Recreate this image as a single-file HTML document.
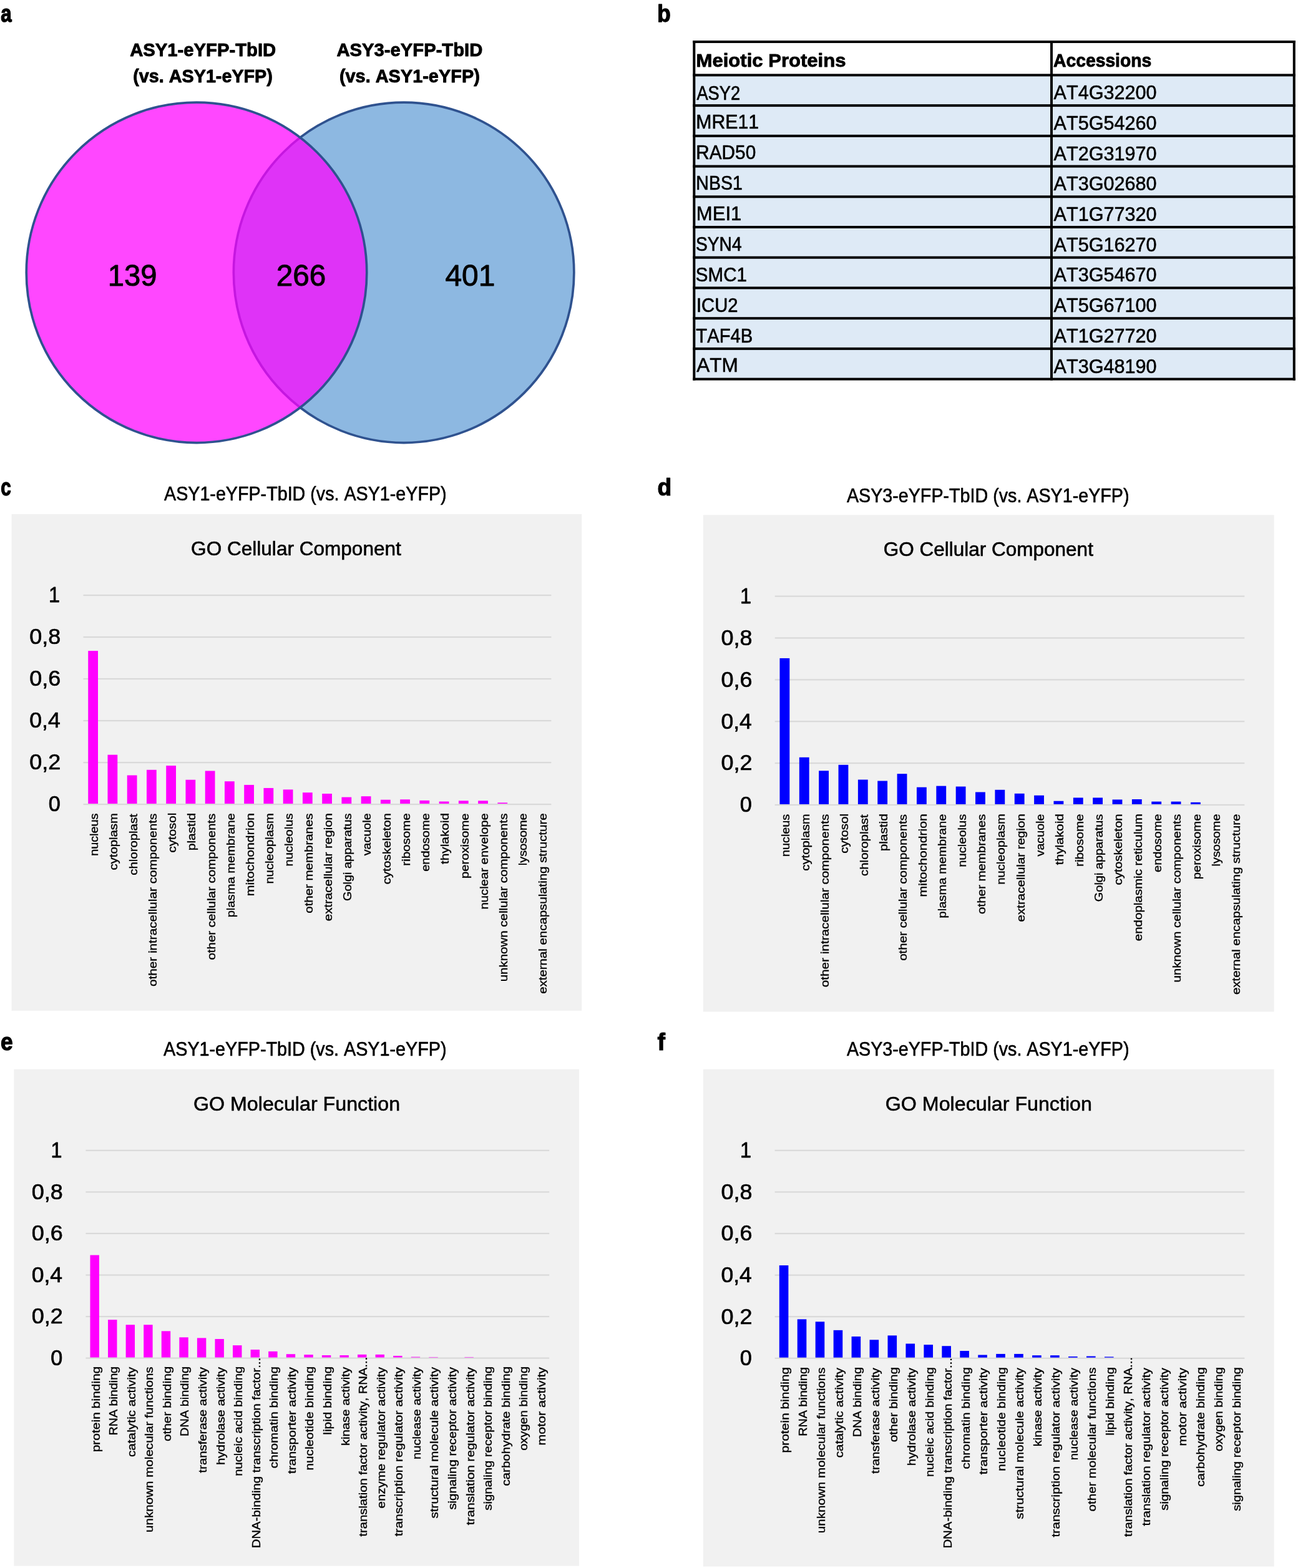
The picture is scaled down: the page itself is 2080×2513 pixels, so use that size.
<!DOCTYPE html>
<html lang="en"><head><meta charset="utf-8"><title>Figure</title>
<style>
html,body{margin:0;padding:0;background:#fff;}
body{width:2080px;height:2513px;overflow:hidden;}
svg{display:block;}
text{font-family:"Liberation Sans",sans-serif;font-kerning:none;white-space:pre;}
</style></head><body>
<svg width="2080" height="2513" viewBox="0 0 2080 2513">
<g id="panel-labels">
<text transform="translate(1.20,35.00) scale(0.8029,1)" font-size="38.80" font-weight="bold" fill="#000" stroke="#000" stroke-width="1.45" stroke-linejoin="round">a</text>
<text transform="translate(1053.28,34.70) scale(0.9065,1)" font-size="38.80" font-weight="bold" fill="#000" stroke="#000" stroke-width="1.28" stroke-linejoin="round">b</text>
<text transform="translate(1.16,794.30) scale(0.7596,1)" font-size="38.80" font-weight="bold" fill="#000" stroke="#000" stroke-width="1.53" stroke-linejoin="round">c</text>
<text transform="translate(1053.52,794.30) scale(0.9565,1)" font-size="38.80" font-weight="bold" fill="#000" stroke="#000" stroke-width="1.22" stroke-linejoin="round">d</text>
<text transform="translate(0.98,1682.80) scale(0.9091,1)" font-size="38.80" font-weight="bold" fill="#000" stroke="#000" stroke-width="1.28" stroke-linejoin="round">e</text>
<text transform="translate(1053.50,1683.00) scale(0.9611,1)" font-size="38.80" font-weight="bold" fill="#000" stroke="#000" stroke-width="1.21" stroke-linejoin="round">f</text>
</g>
<g id="venn">
<circle cx="647.1" cy="436.8" r="272.75" fill="#8DB8E1" stroke="#2F528F" stroke-width="3.7"/>
<circle cx="315.0" cy="436.8" r="272.75" fill="#FF00FF" fill-opacity="0.72" stroke="#2F528F" stroke-width="3.7"/>
<text transform="translate(208.19,90.30) scale(0.9846,1)" font-size="29.70" font-weight="bold" fill="#000" stroke="#000" stroke-width="0.90" stroke-linejoin="round">ASY1-eYFP-TbID</text>
<text transform="translate(213.30,132.10) scale(0.9676,1)" font-size="29.70" font-weight="bold" fill="#000" stroke="#000" stroke-width="0.92" stroke-linejoin="round">(vs. ASY1-eYFP)</text>
<text transform="translate(539.39,90.30) scale(0.9846,1)" font-size="29.70" font-weight="bold" fill="#000" stroke="#000" stroke-width="0.90" stroke-linejoin="round">ASY3-eYFP-TbID</text>
<text transform="translate(543.89,132.10) scale(0.9738,1)" font-size="29.70" font-weight="bold" fill="#000" stroke="#000" stroke-width="0.92" stroke-linejoin="round">(vs. ASY1-eYFP)</text>
<text transform="translate(172.71,457.60) scale(0.9716,1)" font-size="48.57" fill="#000" stroke="#000" stroke-width="0.95" stroke-linejoin="round">139</text>
<text transform="translate(442.63,457.60) scale(0.9815,1)" font-size="48.57" fill="#000" stroke="#000" stroke-width="0.94" stroke-linejoin="round">266</text>
<text transform="translate(713.41,457.60) scale(0.9868,1)" font-size="48.57" fill="#000" stroke="#000" stroke-width="0.94" stroke-linejoin="round">401</text>
</g>
<g id="table">
<rect x="1112.3" y="67.0" width="961.5000000000002" height="53.400000000000006" fill="#fff"/>
<rect x="1112.3" y="120.4" width="961.5000000000002" height="487.20000000000005" fill="#DEEAF6"/>
<rect x="1110.30" y="65.00" width="965.50" height="4.0" fill="#000"/>
<rect x="1110.30" y="118.40" width="965.50" height="4.0" fill="#000"/>
<rect x="1110.30" y="167.12" width="965.50" height="4.0" fill="#000"/>
<rect x="1110.30" y="215.84" width="965.50" height="4.0" fill="#000"/>
<rect x="1110.30" y="264.56" width="965.50" height="4.0" fill="#000"/>
<rect x="1110.30" y="313.28" width="965.50" height="4.0" fill="#000"/>
<rect x="1110.30" y="362.00" width="965.50" height="4.0" fill="#000"/>
<rect x="1110.30" y="410.72" width="965.50" height="4.0" fill="#000"/>
<rect x="1110.30" y="459.44" width="965.50" height="4.0" fill="#000"/>
<rect x="1110.30" y="508.16" width="965.50" height="4.0" fill="#000"/>
<rect x="1110.30" y="556.88" width="965.50" height="4.0" fill="#000"/>
<rect x="1110.30" y="605.60" width="965.50" height="4.0" fill="#000"/>
<rect x="1110.30" y="65.00" width="4.0" height="544.60" fill="#000"/>
<rect x="1683.00" y="65.00" width="4.0" height="544.60" fill="#000"/>
<rect x="2071.80" y="65.00" width="4.0" height="544.60" fill="#000"/>
<text transform="translate(1115.50,107.10) scale(1.0467,1)" font-size="29.70" font-weight="bold" fill="#000" stroke="#000" stroke-width="0.85" stroke-linejoin="round">Meiotic Proteins</text>
<text transform="translate(1688.10,107.00) scale(0.9522,1)" font-size="29.70" font-weight="bold" fill="#000" stroke="#000" stroke-width="0.94" stroke-linejoin="round">Accessions</text>
<text transform="translate(1116.40,159.50) scale(0.8779,1)" font-size="31.10" fill="#000" stroke="#000" stroke-width="0.67" stroke-linejoin="round">ASY2</text>
<text transform="translate(1688.60,159.20) scale(0.9831,1)" font-size="31.10" fill="#000" stroke="#000" stroke-width="0.60" stroke-linejoin="round">AT4G32200</text>
<text transform="translate(1115.23,206.30) scale(0.9730,1)" font-size="31.10" fill="#000" stroke="#000" stroke-width="0.61" stroke-linejoin="round">MRE11</text>
<text transform="translate(1688.60,207.90) scale(0.9831,1)" font-size="31.10" fill="#000" stroke="#000" stroke-width="0.60" stroke-linejoin="round">AT5G54260</text>
<text transform="translate(1115.27,255.10) scale(0.9573,1)" font-size="31.10" fill="#000" stroke="#000" stroke-width="0.62" stroke-linejoin="round">RAD50</text>
<text transform="translate(1688.60,256.60) scale(0.9831,1)" font-size="31.10" fill="#000" stroke="#000" stroke-width="0.60" stroke-linejoin="round">AT2G31970</text>
<text transform="translate(1115.37,304.10) scale(0.9156,1)" font-size="31.10" fill="#000" stroke="#000" stroke-width="0.65" stroke-linejoin="round">NBS1</text>
<text transform="translate(1688.60,305.30) scale(0.9831,1)" font-size="31.10" fill="#000" stroke="#000" stroke-width="0.60" stroke-linejoin="round">AT3G02680</text>
<text transform="translate(1115.87,353.00) scale(0.9973,1)" font-size="31.10" fill="#000" stroke="#000" stroke-width="0.59" stroke-linejoin="round">MEI1</text>
<text transform="translate(1688.60,354.00) scale(0.9831,1)" font-size="31.10" fill="#000" stroke="#000" stroke-width="0.60" stroke-linejoin="round">AT1G77320</text>
<text transform="translate(1114.91,401.50) scale(0.9071,1)" font-size="31.10" fill="#000" stroke="#000" stroke-width="0.65" stroke-linejoin="round">SYN4</text>
<text transform="translate(1688.60,402.70) scale(0.9831,1)" font-size="31.10" fill="#000" stroke="#000" stroke-width="0.60" stroke-linejoin="round">AT5G16270</text>
<text transform="translate(1114.87,451.00) scale(0.9493,1)" font-size="31.10" fill="#000" stroke="#000" stroke-width="0.62" stroke-linejoin="round">SMC1</text>
<text transform="translate(1688.60,451.40) scale(0.9831,1)" font-size="31.10" fill="#000" stroke="#000" stroke-width="0.60" stroke-linejoin="round">AT3G54670</text>
<text transform="translate(1116.01,500.30) scale(0.9396,1)" font-size="31.10" fill="#000" stroke="#000" stroke-width="0.63" stroke-linejoin="round">ICU2</text>
<text transform="translate(1688.60,500.10) scale(0.9831,1)" font-size="31.10" fill="#000" stroke="#000" stroke-width="0.60" stroke-linejoin="round">AT5G67100</text>
<text transform="translate(1115.34,549.20) scale(0.9392,1)" font-size="31.10" fill="#000" stroke="#000" stroke-width="0.63" stroke-linejoin="round">TAF4B</text>
<text transform="translate(1688.60,548.80) scale(0.9831,1)" font-size="31.10" fill="#000" stroke="#000" stroke-width="0.60" stroke-linejoin="round">AT1G27720</text>
<text transform="translate(1116.20,595.90) scale(1.0166,1)" font-size="31.10" fill="#000" stroke="#000" stroke-width="0.58" stroke-linejoin="round">ATM</text>
<text transform="translate(1688.60,597.50) scale(0.9831,1)" font-size="31.10" fill="#000" stroke="#000" stroke-width="0.60" stroke-linejoin="round">AT3G48190</text>
</g>
<g id="chart-c">
<text transform="translate(263.00,801.80) scale(0.9164,1)" font-size="31.30" fill="#000" stroke="#000" stroke-width="0.65" stroke-linejoin="round">ASY1-eYFP-TbID (vs. ASY1-eYFP)</text>
<rect x="18.5" y="823.9" width="913.80" height="795.90" fill="#F1F1F1"/>
<text transform="translate(306.12,890.00) scale(1.0083,1)" font-size="31.30" fill="#000" stroke="#000" stroke-width="0.59" stroke-linejoin="round">GO Cellular Component</text>
<rect x="133.5" y="952.90" width="749.90" height="2.2" fill="#D9D9D9"/>
<text transform="translate(78.02,965.30) scale(0.9052,1)" font-size="35.65" fill="#000" stroke="#000" stroke-width="0.75" stroke-linejoin="round">1</text>
<rect x="133.5" y="1019.92" width="749.90" height="2.2" fill="#D9D9D9"/>
<text transform="translate(47.31,1032.32) scale(1.0089,1)" font-size="35.65" fill="#000" stroke="#000" stroke-width="0.67" stroke-linejoin="round">0,8</text>
<rect x="133.5" y="1086.94" width="749.90" height="2.2" fill="#D9D9D9"/>
<text transform="translate(47.31,1099.34) scale(1.0089,1)" font-size="35.65" fill="#000" stroke="#000" stroke-width="0.67" stroke-linejoin="round">0,6</text>
<rect x="133.5" y="1153.96" width="749.90" height="2.2" fill="#D9D9D9"/>
<text transform="translate(47.33,1166.36) scale(0.9971,1)" font-size="35.65" fill="#000" stroke="#000" stroke-width="0.68" stroke-linejoin="round">0,4</text>
<rect x="133.5" y="1220.98" width="749.90" height="2.2" fill="#D9D9D9"/>
<text transform="translate(47.31,1233.38) scale(1.0089,1)" font-size="35.65" fill="#000" stroke="#000" stroke-width="0.67" stroke-linejoin="round">0,2</text>
<text transform="translate(77.77,1300.40) scale(0.9605,1)" font-size="35.65" fill="#000" stroke="#000" stroke-width="0.71" stroke-linejoin="round">0</text>
<rect x="141.23" y="1043.14" width="15.78" height="245.96" fill="#FF00FF"/>
<rect x="172.48" y="1209.68" width="15.78" height="79.42" fill="#FF00FF"/>
<rect x="203.73" y="1242.52" width="15.78" height="46.58" fill="#FF00FF"/>
<rect x="234.97" y="1233.81" width="15.78" height="55.29" fill="#FF00FF"/>
<rect x="266.22" y="1227.11" width="15.78" height="61.99" fill="#FF00FF"/>
<rect x="297.46" y="1249.73" width="15.78" height="39.37" fill="#FF00FF"/>
<rect x="328.71" y="1235.48" width="15.78" height="53.62" fill="#FF00FF"/>
<rect x="359.95" y="1252.24" width="15.78" height="36.86" fill="#FF00FF"/>
<rect x="391.20" y="1257.94" width="15.78" height="31.16" fill="#FF00FF"/>
<rect x="422.45" y="1262.96" width="15.78" height="26.14" fill="#FF00FF"/>
<rect x="453.69" y="1265.41" width="15.78" height="23.69" fill="#FF00FF"/>
<rect x="484.94" y="1270.20" width="15.78" height="18.90" fill="#FF00FF"/>
<rect x="516.18" y="1272.01" width="15.78" height="17.09" fill="#FF00FF"/>
<rect x="547.43" y="1277.61" width="15.78" height="11.49" fill="#FF00FF"/>
<rect x="578.68" y="1276.20" width="15.78" height="12.90" fill="#FF00FF"/>
<rect x="609.92" y="1281.73" width="15.78" height="7.37" fill="#FF00FF"/>
<rect x="641.17" y="1281.29" width="15.78" height="7.81" fill="#FF00FF"/>
<rect x="672.41" y="1282.90" width="15.78" height="6.20" fill="#FF00FF"/>
<rect x="703.66" y="1284.51" width="15.78" height="4.59" fill="#FF00FF"/>
<rect x="734.90" y="1283.34" width="15.78" height="5.76" fill="#FF00FF"/>
<rect x="766.15" y="1283.34" width="15.78" height="5.76" fill="#FF00FF"/>
<rect x="797.40" y="1286.42" width="15.78" height="2.68" fill="#FF00FF"/>
<rect x="133.5" y="1288.00" width="749.90" height="2.2" fill="#D9D9D9"/>
<text transform="translate(157.02,1371.84) rotate(-90) scale(1.0330,1)" font-size="19.20" stroke="#000" stroke-width="0.38">nucleus</text>
<text transform="translate(188.27,1394.56) rotate(-90) scale(1.0588,1)" font-size="19.20" stroke="#000" stroke-width="0.38">cytoplasm</text>
<text transform="translate(219.51,1402.69) rotate(-90) scale(1.0611,1)" font-size="19.20" stroke="#000" stroke-width="0.38">chloroplast</text>
<text transform="translate(250.76,1581.00) rotate(-90) scale(1.0791,1)" font-size="19.20" stroke="#000" stroke-width="0.38">other intracellular components</text>
<text transform="translate(282.01,1366.48) rotate(-90) scale(1.0666,1)" font-size="19.20" stroke="#000" stroke-width="0.38">cytosol</text>
<text transform="translate(313.25,1363.16) rotate(-90) scale(1.0852,1)" font-size="19.20" stroke="#000" stroke-width="0.38">plastid</text>
<text transform="translate(344.50,1538.62) rotate(-90) scale(1.0696,1)" font-size="19.20" stroke="#000" stroke-width="0.38">other cellular components</text>
<text transform="translate(375.74,1470.35) rotate(-90) scale(1.0507,1)" font-size="19.20" stroke="#000" stroke-width="0.38">plasma membrane</text>
<text transform="translate(406.99,1436.28) rotate(-90) scale(1.1059,1)" font-size="19.20" stroke="#000" stroke-width="0.38">mitochondrion</text>
<text transform="translate(438.24,1416.51) rotate(-90) scale(1.0526,1)" font-size="19.20" stroke="#000" stroke-width="0.38">nucleoplasm</text>
<text transform="translate(469.48,1388.43) rotate(-90) scale(1.0473,1)" font-size="19.20" stroke="#000" stroke-width="0.38">nucleolus</text>
<text transform="translate(500.73,1463.68) rotate(-90) scale(1.0648,1)" font-size="19.20" stroke="#000" stroke-width="0.38">other membranes</text>
<text transform="translate(531.97,1476.22) rotate(-90) scale(1.0681,1)" font-size="19.20" stroke="#000" stroke-width="0.38">extracellular region</text>
<text transform="translate(563.22,1443.93) rotate(-90) scale(1.0362,1)" font-size="19.20" stroke="#000" stroke-width="0.38">Golgi apparatus</text>
<text transform="translate(594.46,1371.26) rotate(-90) scale(1.0269,1)" font-size="19.20" stroke="#000" stroke-width="0.38">vacuole</text>
<text transform="translate(625.71,1417.32) rotate(-90) scale(1.0717,1)" font-size="19.20" stroke="#000" stroke-width="0.38">cytoskeleton</text>
<text transform="translate(656.96,1387.73) rotate(-90) scale(1.0696,1)" font-size="19.20" stroke="#000" stroke-width="0.38">ribosome</text>
<text transform="translate(688.20,1396.76) rotate(-90) scale(1.0425,1)" font-size="19.20" stroke="#000" stroke-width="0.38">endosome</text>
<text transform="translate(719.45,1384.96) rotate(-90) scale(1.0824,1)" font-size="19.20" stroke="#000" stroke-width="0.38">thylakoid</text>
<text transform="translate(750.69,1408.12) rotate(-90) scale(1.0564,1)" font-size="19.20" stroke="#000" stroke-width="0.38">peroxisome</text>
<text transform="translate(781.94,1457.48) rotate(-90) scale(1.0545,1)" font-size="19.20" stroke="#000" stroke-width="0.38">nuclear envelope</text>
<text transform="translate(813.19,1573.33) rotate(-90) scale(1.0669,1)" font-size="19.20" stroke="#000" stroke-width="0.38">unknown cellular components</text>
<text transform="translate(844.43,1387.19) rotate(-90) scale(1.0345,1)" font-size="19.20" stroke="#000" stroke-width="0.38">lysosome</text>
<text transform="translate(875.68,1592.83) rotate(-90) scale(1.0639,1)" font-size="19.20" stroke="#000" stroke-width="0.38">external encapsulating structure</text>
</g>
<g id="chart-d">
<text transform="translate(1356.90,804.80) scale(0.9164,1)" font-size="31.30" fill="#000" stroke="#000" stroke-width="0.65" stroke-linejoin="round">ASY3-eYFP-TbID (vs. ASY1-eYFP)</text>
<rect x="1126.8" y="825.4" width="914.90" height="796.10" fill="#F1F1F1"/>
<text transform="translate(1415.82,890.60) scale(1.0065,1)" font-size="31.30" fill="#000" stroke="#000" stroke-width="0.59" stroke-linejoin="round">GO Cellular Component</text>
<rect x="1241.7" y="954.50" width="752.60" height="2.2" fill="#D9D9D9"/>
<text transform="translate(1186.12,966.90) scale(0.9052,1)" font-size="35.65" fill="#000" stroke="#000" stroke-width="0.75" stroke-linejoin="round">1</text>
<rect x="1241.7" y="1021.38" width="752.60" height="2.2" fill="#D9D9D9"/>
<text transform="translate(1155.41,1033.78) scale(1.0089,1)" font-size="35.65" fill="#000" stroke="#000" stroke-width="0.67" stroke-linejoin="round">0,8</text>
<rect x="1241.7" y="1088.26" width="752.60" height="2.2" fill="#D9D9D9"/>
<text transform="translate(1155.41,1100.66) scale(1.0089,1)" font-size="35.65" fill="#000" stroke="#000" stroke-width="0.67" stroke-linejoin="round">0,6</text>
<rect x="1241.7" y="1155.14" width="752.60" height="2.2" fill="#D9D9D9"/>
<text transform="translate(1155.43,1167.54) scale(0.9971,1)" font-size="35.65" fill="#000" stroke="#000" stroke-width="0.68" stroke-linejoin="round">0,4</text>
<rect x="1241.7" y="1222.02" width="752.60" height="2.2" fill="#D9D9D9"/>
<text transform="translate(1155.41,1234.42) scale(1.0089,1)" font-size="35.65" fill="#000" stroke="#000" stroke-width="0.67" stroke-linejoin="round">0,2</text>
<text transform="translate(1185.87,1301.30) scale(0.9605,1)" font-size="35.65" fill="#000" stroke="#000" stroke-width="0.71" stroke-linejoin="round">0</text>
<rect x="1249.46" y="1054.92" width="15.84" height="235.08" fill="#0000FF"/>
<rect x="1280.82" y="1213.76" width="15.84" height="76.24" fill="#0000FF"/>
<rect x="1312.18" y="1235.29" width="15.84" height="54.71" fill="#0000FF"/>
<rect x="1343.54" y="1225.80" width="15.84" height="64.20" fill="#0000FF"/>
<rect x="1374.89" y="1249.54" width="15.84" height="40.46" fill="#0000FF"/>
<rect x="1406.25" y="1251.54" width="15.84" height="38.46" fill="#0000FF"/>
<rect x="1437.61" y="1240.17" width="15.84" height="49.83" fill="#0000FF"/>
<rect x="1468.97" y="1261.68" width="15.84" height="28.32" fill="#0000FF"/>
<rect x="1500.33" y="1259.64" width="15.84" height="30.36" fill="#0000FF"/>
<rect x="1531.69" y="1260.57" width="15.84" height="29.43" fill="#0000FF"/>
<rect x="1563.04" y="1269.50" width="15.84" height="20.50" fill="#0000FF"/>
<rect x="1594.40" y="1265.82" width="15.84" height="24.18" fill="#0000FF"/>
<rect x="1625.76" y="1271.81" width="15.84" height="18.19" fill="#0000FF"/>
<rect x="1657.12" y="1274.78" width="15.84" height="15.22" fill="#0000FF"/>
<rect x="1688.48" y="1283.75" width="15.84" height="6.25" fill="#0000FF"/>
<rect x="1719.84" y="1278.46" width="15.84" height="11.54" fill="#0000FF"/>
<rect x="1751.19" y="1278.46" width="15.84" height="11.54" fill="#0000FF"/>
<rect x="1782.55" y="1281.47" width="15.84" height="8.53" fill="#0000FF"/>
<rect x="1813.91" y="1280.97" width="15.84" height="9.03" fill="#0000FF"/>
<rect x="1845.27" y="1284.65" width="15.84" height="5.35" fill="#0000FF"/>
<rect x="1876.63" y="1284.65" width="15.84" height="5.35" fill="#0000FF"/>
<rect x="1907.99" y="1285.82" width="15.84" height="4.18" fill="#0000FF"/>
<rect x="1241.7" y="1288.90" width="752.60" height="2.2" fill="#D9D9D9"/>
<text transform="translate(1265.28,1373.04) rotate(-90) scale(1.0330,1)" font-size="19.20" stroke="#000" stroke-width="0.38">nucleus</text>
<text transform="translate(1296.64,1395.76) rotate(-90) scale(1.0588,1)" font-size="19.20" stroke="#000" stroke-width="0.38">cytoplasm</text>
<text transform="translate(1328.00,1582.20) rotate(-90) scale(1.0791,1)" font-size="19.20" stroke="#000" stroke-width="0.38">other intracellular components</text>
<text transform="translate(1359.35,1367.68) rotate(-90) scale(1.0666,1)" font-size="19.20" stroke="#000" stroke-width="0.38">cytosol</text>
<text transform="translate(1390.71,1403.89) rotate(-90) scale(1.0611,1)" font-size="19.20" stroke="#000" stroke-width="0.38">chloroplast</text>
<text transform="translate(1422.07,1364.36) rotate(-90) scale(1.0852,1)" font-size="19.20" stroke="#000" stroke-width="0.38">plastid</text>
<text transform="translate(1453.43,1539.82) rotate(-90) scale(1.0696,1)" font-size="19.20" stroke="#000" stroke-width="0.38">other cellular components</text>
<text transform="translate(1484.79,1437.48) rotate(-90) scale(1.1059,1)" font-size="19.20" stroke="#000" stroke-width="0.38">mitochondrion</text>
<text transform="translate(1516.15,1471.55) rotate(-90) scale(1.0507,1)" font-size="19.20" stroke="#000" stroke-width="0.38">plasma membrane</text>
<text transform="translate(1547.50,1389.63) rotate(-90) scale(1.0473,1)" font-size="19.20" stroke="#000" stroke-width="0.38">nucleolus</text>
<text transform="translate(1578.86,1464.88) rotate(-90) scale(1.0648,1)" font-size="19.20" stroke="#000" stroke-width="0.38">other membranes</text>
<text transform="translate(1610.22,1417.71) rotate(-90) scale(1.0526,1)" font-size="19.20" stroke="#000" stroke-width="0.38">nucleoplasm</text>
<text transform="translate(1641.58,1477.42) rotate(-90) scale(1.0681,1)" font-size="19.20" stroke="#000" stroke-width="0.38">extracellular region</text>
<text transform="translate(1672.94,1372.46) rotate(-90) scale(1.0269,1)" font-size="19.20" stroke="#000" stroke-width="0.38">vacuole</text>
<text transform="translate(1704.30,1386.16) rotate(-90) scale(1.0824,1)" font-size="19.20" stroke="#000" stroke-width="0.38">thylakoid</text>
<text transform="translate(1735.65,1388.93) rotate(-90) scale(1.0696,1)" font-size="19.20" stroke="#000" stroke-width="0.38">ribosome</text>
<text transform="translate(1767.01,1445.13) rotate(-90) scale(1.0362,1)" font-size="19.20" stroke="#000" stroke-width="0.38">Golgi apparatus</text>
<text transform="translate(1798.37,1418.52) rotate(-90) scale(1.0717,1)" font-size="19.20" stroke="#000" stroke-width="0.38">cytoskeleton</text>
<text transform="translate(1829.73,1508.19) rotate(-90) scale(1.0677,1)" font-size="19.20" stroke="#000" stroke-width="0.38">endoplasmic reticulum</text>
<text transform="translate(1861.09,1397.96) rotate(-90) scale(1.0425,1)" font-size="19.20" stroke="#000" stroke-width="0.38">endosome</text>
<text transform="translate(1892.45,1574.53) rotate(-90) scale(1.0669,1)" font-size="19.20" stroke="#000" stroke-width="0.38">unknown cellular components</text>
<text transform="translate(1923.80,1409.32) rotate(-90) scale(1.0564,1)" font-size="19.20" stroke="#000" stroke-width="0.38">peroxisome</text>
<text transform="translate(1955.16,1388.39) rotate(-90) scale(1.0345,1)" font-size="19.20" stroke="#000" stroke-width="0.38">lysosome</text>
<text transform="translate(1986.52,1594.03) rotate(-90) scale(1.0639,1)" font-size="19.20" stroke="#000" stroke-width="0.38">external encapsulating structure</text>
</g>
<g id="chart-e">
<text transform="translate(262.10,1691.80) scale(0.9183,1)" font-size="31.30" fill="#000" stroke="#000" stroke-width="0.65" stroke-linejoin="round">ASY1-eYFP-TbID (vs. ASY1-eYFP)</text>
<rect x="22.4" y="1713.7" width="905.70" height="795.90" fill="#F1F1F1"/>
<text transform="translate(309.99,1780.10) scale(1.0292,1)" font-size="31.30" fill="#000" stroke="#000" stroke-width="0.58" stroke-linejoin="round">GO Molecular Function</text>
<rect x="137.4" y="1842.70" width="742.80" height="2.2" fill="#D9D9D9"/>
<text transform="translate(81.42,1855.10) scale(0.9052,1)" font-size="35.65" fill="#000" stroke="#000" stroke-width="0.75" stroke-linejoin="round">1</text>
<rect x="137.4" y="1909.26" width="742.80" height="2.2" fill="#D9D9D9"/>
<text transform="translate(50.71,1921.66) scale(1.0089,1)" font-size="35.65" fill="#000" stroke="#000" stroke-width="0.67" stroke-linejoin="round">0,8</text>
<rect x="137.4" y="1975.82" width="742.80" height="2.2" fill="#D9D9D9"/>
<text transform="translate(50.71,1988.22) scale(1.0089,1)" font-size="35.65" fill="#000" stroke="#000" stroke-width="0.67" stroke-linejoin="round">0,6</text>
<rect x="137.4" y="2042.38" width="742.80" height="2.2" fill="#D9D9D9"/>
<text transform="translate(50.73,2054.78) scale(0.9971,1)" font-size="35.65" fill="#000" stroke="#000" stroke-width="0.68" stroke-linejoin="round">0,4</text>
<rect x="137.4" y="2108.94" width="742.80" height="2.2" fill="#D9D9D9"/>
<text transform="translate(50.71,2121.34) scale(1.0089,1)" font-size="35.65" fill="#000" stroke="#000" stroke-width="0.67" stroke-linejoin="round">0,2</text>
<text transform="translate(81.17,2187.90) scale(0.9605,1)" font-size="35.65" fill="#000" stroke="#000" stroke-width="0.71" stroke-linejoin="round">0</text>
<rect x="144.47" y="2011.53" width="14.43" height="165.07" fill="#FF00FF"/>
<rect x="173.04" y="2115.13" width="14.43" height="61.47" fill="#FF00FF"/>
<rect x="201.61" y="2123.19" width="14.43" height="53.41" fill="#FF00FF"/>
<rect x="230.18" y="2123.19" width="14.43" height="53.41" fill="#FF00FF"/>
<rect x="258.75" y="2133.34" width="14.43" height="43.26" fill="#FF00FF"/>
<rect x="287.32" y="2143.32" width="14.43" height="33.28" fill="#FF00FF"/>
<rect x="315.89" y="2144.38" width="14.43" height="32.22" fill="#FF00FF"/>
<rect x="344.46" y="2145.98" width="14.43" height="30.62" fill="#FF00FF"/>
<rect x="373.02" y="2156.13" width="14.43" height="20.47" fill="#FF00FF"/>
<rect x="401.59" y="2163.06" width="14.43" height="13.54" fill="#FF00FF"/>
<rect x="430.16" y="2165.82" width="14.43" height="10.78" fill="#FF00FF"/>
<rect x="458.73" y="2170.21" width="14.43" height="6.39" fill="#FF00FF"/>
<rect x="487.30" y="2171.11" width="14.43" height="5.49" fill="#FF00FF"/>
<rect x="515.87" y="2172.04" width="14.43" height="4.56" fill="#FF00FF"/>
<rect x="544.44" y="2172.04" width="14.43" height="4.56" fill="#FF00FF"/>
<rect x="573.01" y="2170.88" width="14.43" height="5.72" fill="#FF00FF"/>
<rect x="601.58" y="2170.88" width="14.43" height="5.72" fill="#FF00FF"/>
<rect x="630.15" y="2172.94" width="14.43" height="3.66" fill="#FF00FF"/>
<rect x="658.72" y="2174.60" width="14.43" height="2.00" fill="#FF00FF"/>
<rect x="687.29" y="2174.94" width="14.43" height="1.66" fill="#FF00FF"/>
<rect x="744.42" y="2174.94" width="14.43" height="1.66" fill="#FF00FF"/>
<rect x="137.4" y="2175.50" width="742.80" height="2.2" fill="#D9D9D9"/>
<text transform="translate(159.58,2327.30) rotate(-90) scale(1.0922,1)" font-size="19.20" stroke="#000" stroke-width="0.38">protein binding</text>
<text transform="translate(188.15,2300.55) rotate(-90) scale(1.0275,1)" font-size="19.20" stroke="#000" stroke-width="0.38">RNA binding</text>
<text transform="translate(216.72,2335.05) rotate(-90) scale(1.0809,1)" font-size="19.20" stroke="#000" stroke-width="0.38">catalytic activity</text>
<text transform="translate(245.29,2455.95) rotate(-90) scale(1.0730,1)" font-size="19.20" stroke="#000" stroke-width="0.38">unknown molecular functions</text>
<text transform="translate(273.86,2310.11) rotate(-90) scale(1.0843,1)" font-size="19.20" stroke="#000" stroke-width="0.38">other binding</text>
<text transform="translate(302.43,2302.15) rotate(-90) scale(1.0425,1)" font-size="19.20" stroke="#000" stroke-width="0.38">DNA binding</text>
<text transform="translate(331.00,2360.53) rotate(-90) scale(1.0598,1)" font-size="19.20" stroke="#000" stroke-width="0.38">transferase activity</text>
<text transform="translate(359.57,2348.03) rotate(-90) scale(1.0670,1)" font-size="19.20" stroke="#000" stroke-width="0.38">hydrolase activity</text>
<text transform="translate(388.14,2365.76) rotate(-90) scale(1.0502,1)" font-size="19.20" stroke="#000" stroke-width="0.38">nucleic acid binding</text>
<text transform="translate(416.71,2481.29) rotate(-90) scale(1.0608,1)" font-size="19.20" stroke="#000" stroke-width="0.38">DNA-binding transcription factor...</text>
<text transform="translate(445.28,2353.22) rotate(-90) scale(1.0787,1)" font-size="19.20" stroke="#000" stroke-width="0.38">chromatin binding</text>
<text transform="translate(473.85,2362.05) rotate(-90) scale(1.0911,1)" font-size="19.20" stroke="#000" stroke-width="0.38">transporter activity</text>
<text transform="translate(502.42,2356.43) rotate(-90) scale(1.0769,1)" font-size="19.20" stroke="#000" stroke-width="0.38">nucleotide binding</text>
<text transform="translate(530.98,2299.63) rotate(-90) scale(1.0837,1)" font-size="19.20" stroke="#000" stroke-width="0.38">lipid binding</text>
<text transform="translate(559.55,2317.06) rotate(-90) scale(1.0556,1)" font-size="19.20" stroke="#000" stroke-width="0.38">kinase activity</text>
<text transform="translate(588.12,2462.60) rotate(-90) scale(1.0541,1)" font-size="19.20" stroke="#000" stroke-width="0.38">translation factor activity, RNA...</text>
<text transform="translate(616.69,2417.38) rotate(-90) scale(1.0665,1)" font-size="19.20" stroke="#000" stroke-width="0.38">enzyme regulator activity</text>
<text transform="translate(645.26,2462.22) rotate(-90) scale(1.0866,1)" font-size="19.20" stroke="#000" stroke-width="0.38">transcription regulator activity</text>
<text transform="translate(673.83,2338.93) rotate(-90) scale(1.0509,1)" font-size="19.20" stroke="#000" stroke-width="0.38">nuclease activity</text>
<text transform="translate(702.40,2433.50) rotate(-90) scale(1.0775,1)" font-size="19.20" stroke="#000" stroke-width="0.38">structural molecule activity</text>
<text transform="translate(730.97,2419.60) rotate(-90) scale(1.0609,1)" font-size="19.20" stroke="#000" stroke-width="0.38">signaling receptor activity</text>
<text transform="translate(759.54,2444.22) rotate(-90) scale(1.0839,1)" font-size="19.20" stroke="#000" stroke-width="0.38">translation regulator activity</text>
<text transform="translate(788.11,2420.65) rotate(-90) scale(1.0552,1)" font-size="19.20" stroke="#000" stroke-width="0.38">signaling receptor binding</text>
<text transform="translate(816.68,2381.58) rotate(-90) scale(1.0698,1)" font-size="19.20" stroke="#000" stroke-width="0.38">carbohydrate binding</text>
<text transform="translate(845.25,2324.82) rotate(-90) scale(1.0455,1)" font-size="19.20" stroke="#000" stroke-width="0.38">oxygen binding</text>
<text transform="translate(873.82,2316.38) rotate(-90) scale(1.1096,1)" font-size="19.20" stroke="#000" stroke-width="0.38">motor activity</text>
</g>
<g id="chart-f">
<text transform="translate(1356.90,1691.80) scale(0.9164,1)" font-size="31.30" fill="#000" stroke="#000" stroke-width="0.65" stroke-linejoin="round">ASY3-eYFP-TbID (vs. ASY1-eYFP)</text>
<rect x="1126.8" y="1713.7" width="914.90" height="796.90" fill="#F1F1F1"/>
<text transform="translate(1418.79,1780.10) scale(1.0292,1)" font-size="31.30" fill="#000" stroke="#000" stroke-width="0.58" stroke-linejoin="round">GO Molecular Function</text>
<rect x="1241.6" y="1842.70" width="752.80" height="2.2" fill="#D9D9D9"/>
<text transform="translate(1186.12,1855.10) scale(0.9052,1)" font-size="35.65" fill="#000" stroke="#000" stroke-width="0.75" stroke-linejoin="round">1</text>
<rect x="1241.6" y="1909.30" width="752.80" height="2.2" fill="#D9D9D9"/>
<text transform="translate(1155.41,1921.70) scale(1.0089,1)" font-size="35.65" fill="#000" stroke="#000" stroke-width="0.67" stroke-linejoin="round">0,8</text>
<rect x="1241.6" y="1975.90" width="752.80" height="2.2" fill="#D9D9D9"/>
<text transform="translate(1155.41,1988.30) scale(1.0089,1)" font-size="35.65" fill="#000" stroke="#000" stroke-width="0.67" stroke-linejoin="round">0,6</text>
<rect x="1241.6" y="2042.50" width="752.80" height="2.2" fill="#D9D9D9"/>
<text transform="translate(1155.43,2054.90) scale(0.9971,1)" font-size="35.65" fill="#000" stroke="#000" stroke-width="0.68" stroke-linejoin="round">0,4</text>
<rect x="1241.6" y="2109.10" width="752.80" height="2.2" fill="#D9D9D9"/>
<text transform="translate(1155.41,2121.50) scale(1.0089,1)" font-size="35.65" fill="#000" stroke="#000" stroke-width="0.67" stroke-linejoin="round">0,2</text>
<text transform="translate(1185.87,2188.10) scale(0.9605,1)" font-size="35.65" fill="#000" stroke="#000" stroke-width="0.71" stroke-linejoin="round">0</text>
<rect x="1248.77" y="2027.95" width="14.62" height="148.85" fill="#0000FF"/>
<rect x="1277.72" y="2114.33" width="14.62" height="62.47" fill="#0000FF"/>
<rect x="1306.67" y="2118.26" width="14.62" height="58.54" fill="#0000FF"/>
<rect x="1335.63" y="2131.85" width="14.62" height="44.96" fill="#0000FF"/>
<rect x="1364.58" y="2142.00" width="14.62" height="34.80" fill="#0000FF"/>
<rect x="1393.54" y="2147.30" width="14.62" height="29.50" fill="#0000FF"/>
<rect x="1422.49" y="2140.37" width="14.62" height="36.43" fill="#0000FF"/>
<rect x="1451.44" y="2153.49" width="14.62" height="23.31" fill="#0000FF"/>
<rect x="1480.40" y="2155.16" width="14.62" height="21.65" fill="#0000FF"/>
<rect x="1509.35" y="2157.22" width="14.62" height="19.58" fill="#0000FF"/>
<rect x="1538.30" y="2165.05" width="14.62" height="11.75" fill="#0000FF"/>
<rect x="1567.26" y="2171.51" width="14.62" height="5.29" fill="#0000FF"/>
<rect x="1596.21" y="2169.91" width="14.62" height="6.89" fill="#0000FF"/>
<rect x="1625.17" y="2169.91" width="14.62" height="6.89" fill="#0000FF"/>
<rect x="1654.12" y="2172.20" width="14.62" height="4.60" fill="#0000FF"/>
<rect x="1683.07" y="2172.20" width="14.62" height="4.60" fill="#0000FF"/>
<rect x="1712.03" y="2174.04" width="14.62" height="2.76" fill="#0000FF"/>
<rect x="1740.98" y="2173.57" width="14.62" height="3.23" fill="#0000FF"/>
<rect x="1769.94" y="2174.47" width="14.62" height="2.33" fill="#0000FF"/>
<rect x="1241.6" y="2175.70" width="752.80" height="2.2" fill="#D9D9D9"/>
<text transform="translate(1263.98,2328.50) rotate(-90) scale(1.0922,1)" font-size="19.20" stroke="#000" stroke-width="0.38">protein binding</text>
<text transform="translate(1292.93,2301.75) rotate(-90) scale(1.0275,1)" font-size="19.20" stroke="#000" stroke-width="0.38">RNA binding</text>
<text transform="translate(1321.88,2457.15) rotate(-90) scale(1.0730,1)" font-size="19.20" stroke="#000" stroke-width="0.38">unknown molecular functions</text>
<text transform="translate(1350.84,2336.25) rotate(-90) scale(1.0809,1)" font-size="19.20" stroke="#000" stroke-width="0.38">catalytic activity</text>
<text transform="translate(1379.79,2303.35) rotate(-90) scale(1.0425,1)" font-size="19.20" stroke="#000" stroke-width="0.38">DNA binding</text>
<text transform="translate(1408.75,2361.73) rotate(-90) scale(1.0598,1)" font-size="19.20" stroke="#000" stroke-width="0.38">transferase activity</text>
<text transform="translate(1437.70,2311.31) rotate(-90) scale(1.0843,1)" font-size="19.20" stroke="#000" stroke-width="0.38">other binding</text>
<text transform="translate(1466.65,2349.23) rotate(-90) scale(1.0670,1)" font-size="19.20" stroke="#000" stroke-width="0.38">hydrolase activity</text>
<text transform="translate(1495.61,2366.96) rotate(-90) scale(1.0502,1)" font-size="19.20" stroke="#000" stroke-width="0.38">nucleic acid binding</text>
<text transform="translate(1524.56,2481.59) rotate(-90) scale(1.0608,1)" font-size="19.20" stroke="#000" stroke-width="0.38">DNA-binding transcription factor...</text>
<text transform="translate(1553.52,2354.42) rotate(-90) scale(1.0787,1)" font-size="19.20" stroke="#000" stroke-width="0.38">chromatin binding</text>
<text transform="translate(1582.47,2363.25) rotate(-90) scale(1.0911,1)" font-size="19.20" stroke="#000" stroke-width="0.38">transporter activity</text>
<text transform="translate(1611.42,2357.63) rotate(-90) scale(1.0769,1)" font-size="19.20" stroke="#000" stroke-width="0.38">nucleotide binding</text>
<text transform="translate(1640.38,2434.70) rotate(-90) scale(1.0775,1)" font-size="19.20" stroke="#000" stroke-width="0.38">structural molecule activity</text>
<text transform="translate(1669.33,2318.26) rotate(-90) scale(1.0556,1)" font-size="19.20" stroke="#000" stroke-width="0.38">kinase activity</text>
<text transform="translate(1698.28,2463.42) rotate(-90) scale(1.0866,1)" font-size="19.20" stroke="#000" stroke-width="0.38">transcription regulator activity</text>
<text transform="translate(1727.24,2340.13) rotate(-90) scale(1.0509,1)" font-size="19.20" stroke="#000" stroke-width="0.38">nuclease activity</text>
<text transform="translate(1756.19,2422.44) rotate(-90) scale(1.0768,1)" font-size="19.20" stroke="#000" stroke-width="0.38">other molecular functions</text>
<text transform="translate(1785.15,2300.83) rotate(-90) scale(1.0837,1)" font-size="19.20" stroke="#000" stroke-width="0.38">lipid binding</text>
<text transform="translate(1814.10,2462.90) rotate(-90) scale(1.0541,1)" font-size="19.20" stroke="#000" stroke-width="0.38">translation factor activity, RNA...</text>
<text transform="translate(1843.05,2445.42) rotate(-90) scale(1.0839,1)" font-size="19.20" stroke="#000" stroke-width="0.38">translation regulator activity</text>
<text transform="translate(1872.01,2420.80) rotate(-90) scale(1.0609,1)" font-size="19.20" stroke="#000" stroke-width="0.38">signaling receptor activity</text>
<text transform="translate(1900.96,2317.58) rotate(-90) scale(1.1096,1)" font-size="19.20" stroke="#000" stroke-width="0.38">motor activity</text>
<text transform="translate(1929.92,2382.78) rotate(-90) scale(1.0698,1)" font-size="19.20" stroke="#000" stroke-width="0.38">carbohydrate binding</text>
<text transform="translate(1958.87,2326.02) rotate(-90) scale(1.0455,1)" font-size="19.20" stroke="#000" stroke-width="0.38">oxygen binding</text>
<text transform="translate(1987.82,2421.85) rotate(-90) scale(1.0552,1)" font-size="19.20" stroke="#000" stroke-width="0.38">signaling receptor binding</text>
</g>
</svg>
</body></html>
